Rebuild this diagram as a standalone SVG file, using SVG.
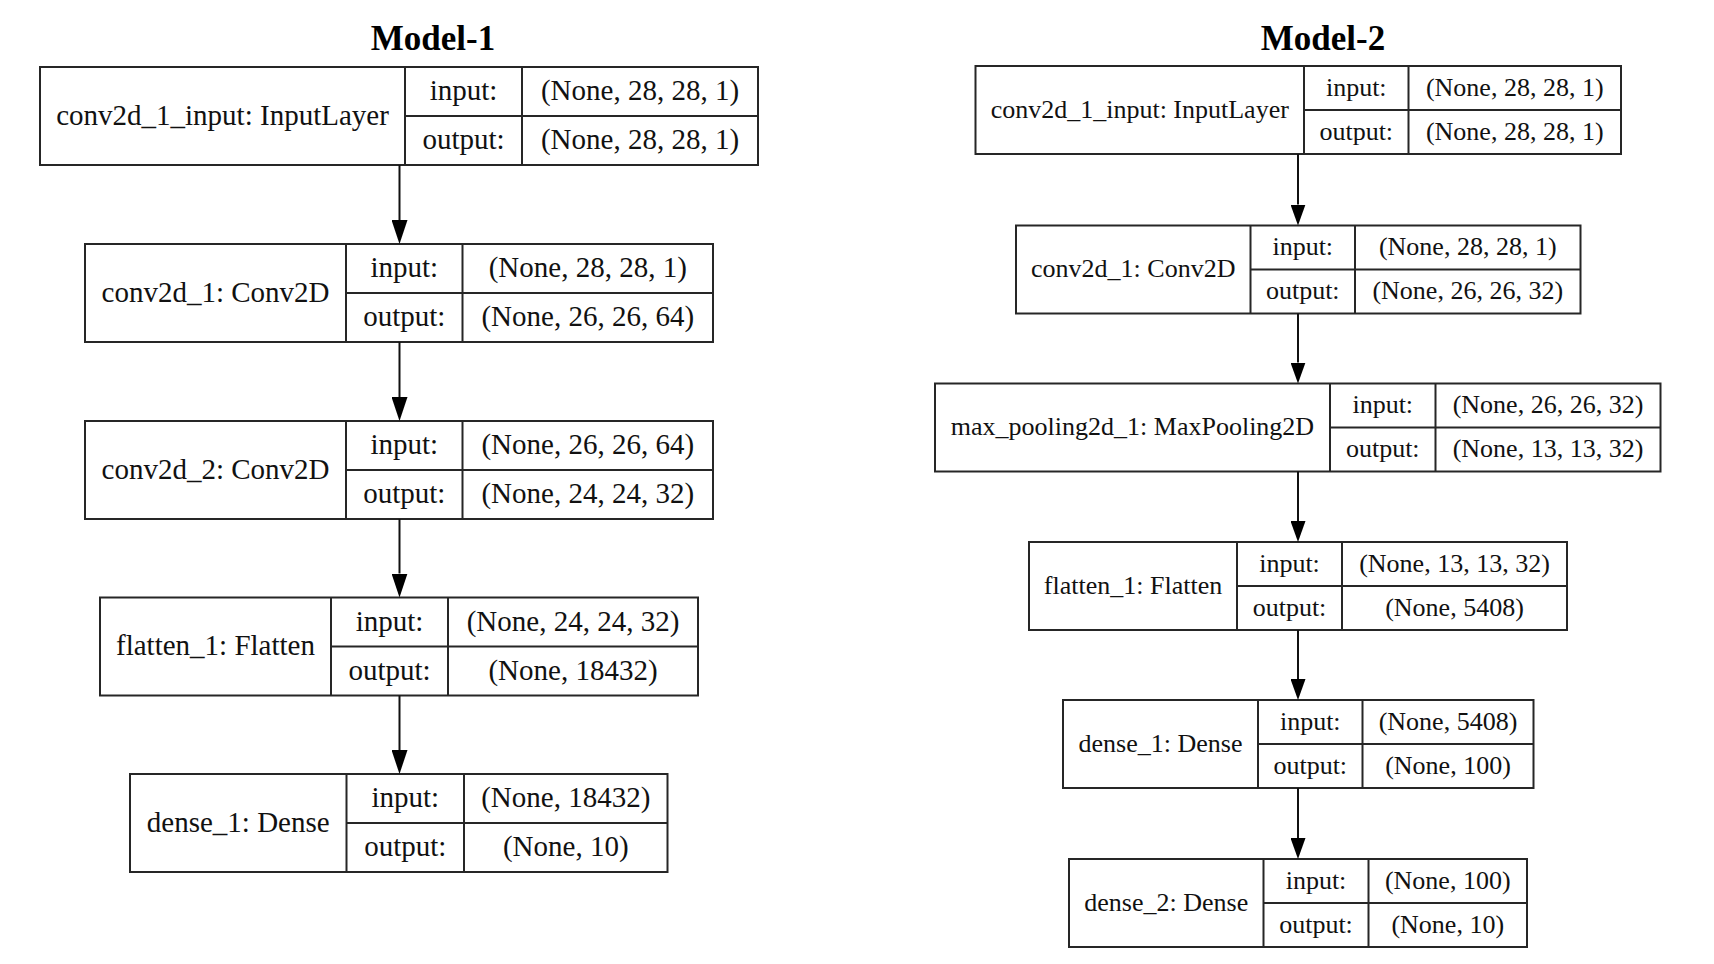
<svg xmlns="http://www.w3.org/2000/svg" width="1714" height="964" viewBox="0 0 1714 964">
  <style>
    .box { fill: #ffffff; stroke: #262626; stroke-width: 2; }
    .sep { stroke: #262626; stroke-width: 2; fill: none; }
    .edge { stroke: #111111; stroke-width: 2; fill: none; }
    .title { font-family: "Liberation Serif", "Times New Roman", serif; font-weight: bold; font-size: 35px; fill: #000; text-anchor: middle; }
    .m1 { font-family: "Liberation Serif", "Times New Roman", serif; font-size: 29px; fill: #111; text-anchor: middle; }
    .m2 { font-family: "Liberation Serif", "Times New Roman", serif; font-size: 26px; fill: #111; text-anchor: middle; }
  </style>
  <defs>
    <marker id="arrowBig" markerUnits="userSpaceOnUse" markerWidth="24" markerHeight="16" refX="0" refY="8" orient="auto" viewBox="0 0 24 16">
      <path d="M0,0 L24,8 L0,16 Z" fill="#000"/>
    </marker>
    <marker id="arrowSmall" markerUnits="userSpaceOnUse" markerWidth="21" markerHeight="15" refX="0" refY="7.5" orient="auto" viewBox="0 0 21 15">
      <path d="M0,0 L21,7.5 L0,15 Z" fill="#000"/>
    </marker>
  </defs>
  <rect width="1714" height="964" fill="#ffffff"/>

  <text class="title" x="433" y="50">Model-1</text>
  <text class="title" x="1323" y="50">Model-2</text>

  <!-- Model-1 layers -->
  <g id="m1_conv2d_1_input">
    <rect class="box" x="40" y="67" width="718" height="98"/>
    <path class="sep" d="M405,67 V165 M522,67 V165 M405,116 H758"/>
    <text class="m1" x="222.5" y="124.5">conv2d_1_input: InputLayer</text>
    <text class="m1" x="463.5" y="100">input:</text>
    <text class="m1" x="463.5" y="149">output:</text>
    <text class="m1" x="640" y="100">(None, 28, 28, 1)</text>
    <text class="m1" x="640" y="149">(None, 28, 28, 1)</text>
  </g>
  <g id="m1_conv2d_1">
    <rect class="box" x="85" y="244" width="628" height="98"/>
    <path class="sep" d="M346,244 V342 M462.5,244 V342 M346,293 H713"/>
    <text class="m1" x="215.5" y="301.5">conv2d_1: Conv2D</text>
    <text class="m1" x="404.25" y="277">input:</text>
    <text class="m1" x="404.25" y="326">output:</text>
    <text class="m1" x="587.75" y="277">(None, 28, 28, 1)</text>
    <text class="m1" x="587.75" y="326">(None, 26, 26, 64)</text>
  </g>
  <g id="m1_conv2d_2">
    <rect class="box" x="85" y="421" width="628" height="98"/>
    <path class="sep" d="M346,421 V519 M462.5,421 V519 M346,470 H713"/>
    <text class="m1" x="215.5" y="478.5">conv2d_2: Conv2D</text>
    <text class="m1" x="404.25" y="454">input:</text>
    <text class="m1" x="404.25" y="503">output:</text>
    <text class="m1" x="587.75" y="454">(None, 26, 26, 64)</text>
    <text class="m1" x="587.75" y="503">(None, 24, 24, 32)</text>
  </g>
  <g id="m1_flatten_1">
    <rect class="box" x="100" y="597.5" width="598" height="98"/>
    <path class="sep" d="M331,597.5 V695.5 M448,597.5 V695.5 M331,646.5 H698"/>
    <text class="m1" x="215.5" y="655">flatten_1: Flatten</text>
    <text class="m1" x="389.5" y="630.5">input:</text>
    <text class="m1" x="389.5" y="679.5">output:</text>
    <text class="m1" x="573" y="630.5">(None, 24, 24, 32)</text>
    <text class="m1" x="573" y="679.5">(None, 18432)</text>
  </g>
  <g id="m1_dense_1">
    <rect class="box" x="130" y="774" width="537.5" height="98"/>
    <path class="sep" d="M346.5,774 V872 M464,774 V872 M346.5,823 H667.5"/>
    <text class="m1" x="238.25" y="831.5">dense_1: Dense</text>
    <text class="m1" x="405.25" y="807">input:</text>
    <text class="m1" x="405.25" y="856">output:</text>
    <text class="m1" x="565.75" y="807">(None, 18432)</text>
    <text class="m1" x="565.75" y="856">(None, 10)</text>
  </g>

  <!-- Model-2 layers -->
  <g id="m2_conv2d_1_input">
    <rect class="box" x="975.5" y="66" width="645.5" height="88"/>
    <path class="sep" d="M1304,66 V154 M1408.5,66 V154 M1304,110 H1621"/>
    <text class="m2" x="1139.75" y="117.8">conv2d_1_input: InputLayer</text>
    <text class="m2" x="1356.25" y="95.8">input:</text>
    <text class="m2" x="1356.25" y="139.8">output:</text>
    <text class="m2" x="1514.75" y="95.8">(None, 28, 28, 1)</text>
    <text class="m2" x="1514.75" y="139.8">(None, 28, 28, 1)</text>
  </g>
  <g id="m2_conv2d_1">
    <rect class="box" x="1016" y="225.5" width="564.5" height="88"/>
    <path class="sep" d="M1250.5,225.5 V313.5 M1355,225.5 V313.5 M1250.5,269.5 H1580.5"/>
    <text class="m2" x="1133.25" y="277.3">conv2d_1: Conv2D</text>
    <text class="m2" x="1302.75" y="255.3">input:</text>
    <text class="m2" x="1302.75" y="299.3">output:</text>
    <text class="m2" x="1467.75" y="255.3">(None, 28, 28, 1)</text>
    <text class="m2" x="1467.75" y="299.3">(None, 26, 26, 32)</text>
  </g>
  <g id="m2_max_pooling2d_1">
    <rect class="box" x="935" y="383.5" width="725.5" height="88"/>
    <path class="sep" d="M1330,383.5 V471.5 M1435.5,383.5 V471.5 M1330,427.5 H1660.5"/>
    <text class="m2" x="1132.5" y="435.3">max_pooling2d_1: MaxPooling2D</text>
    <text class="m2" x="1382.75" y="413.3">input:</text>
    <text class="m2" x="1382.75" y="457.3">output:</text>
    <text class="m2" x="1548" y="413.3">(None, 26, 26, 32)</text>
    <text class="m2" x="1548" y="457.3">(None, 13, 13, 32)</text>
  </g>
  <g id="m2_flatten_1">
    <rect class="box" x="1029" y="542" width="538" height="88"/>
    <path class="sep" d="M1237,542 V630 M1342,542 V630 M1237,586 H1567"/>
    <text class="m2" x="1133" y="593.8">flatten_1: Flatten</text>
    <text class="m2" x="1289.5" y="571.8">input:</text>
    <text class="m2" x="1289.5" y="615.8">output:</text>
    <text class="m2" x="1454.5" y="571.8">(None, 13, 13, 32)</text>
    <text class="m2" x="1454.5" y="615.8">(None, 5408)</text>
  </g>
  <g id="m2_dense_1">
    <rect class="box" x="1063" y="700" width="470.5" height="88"/>
    <path class="sep" d="M1258,700 V788 M1362.5,700 V788 M1258,744 H1533.5"/>
    <text class="m2" x="1160.5" y="751.8">dense_1: Dense</text>
    <text class="m2" x="1310.25" y="729.8">input:</text>
    <text class="m2" x="1310.25" y="773.8">output:</text>
    <text class="m2" x="1448" y="729.8">(None, 5408)</text>
    <text class="m2" x="1448" y="773.8">(None, 100)</text>
  </g>
  <g id="m2_dense_2">
    <rect class="box" x="1069" y="859" width="458" height="88"/>
    <path class="sep" d="M1263.5,859 V947 M1368.5,859 V947 M1263.5,903 H1527"/>
    <text class="m2" x="1166.25" y="910.8">dense_2: Dense</text>
    <text class="m2" x="1316" y="888.8">input:</text>
    <text class="m2" x="1316" y="932.8">output:</text>
    <text class="m2" x="1447.75" y="888.8">(None, 100)</text>
    <text class="m2" x="1447.75" y="932.8">(None, 10)</text>
  </g>

  <!-- data-flow edges, each ending at the top of the next layer -->
  <g id="connectors">
    <path class="edge" marker-end="url(#arrowBig)" d="M399.5,165 V220"/>
    <path class="edge" marker-end="url(#arrowBig)" d="M399.5,342 V397"/>
    <path class="edge" marker-end="url(#arrowBig)" d="M399.5,519 V573.5"/>
    <path class="edge" marker-end="url(#arrowBig)" d="M399.5,695.5 V750"/>
    <path class="edge" marker-end="url(#arrowSmall)" d="M1298,154 V204.5"/>
    <path class="edge" marker-end="url(#arrowSmall)" d="M1298,313.5 V362.5"/>
    <path class="edge" marker-end="url(#arrowSmall)" d="M1298,471.5 V521"/>
    <path class="edge" marker-end="url(#arrowSmall)" d="M1298,630 V679"/>
    <path class="edge" marker-end="url(#arrowSmall)" d="M1298,788 V838"/>
  </g>
</svg>
